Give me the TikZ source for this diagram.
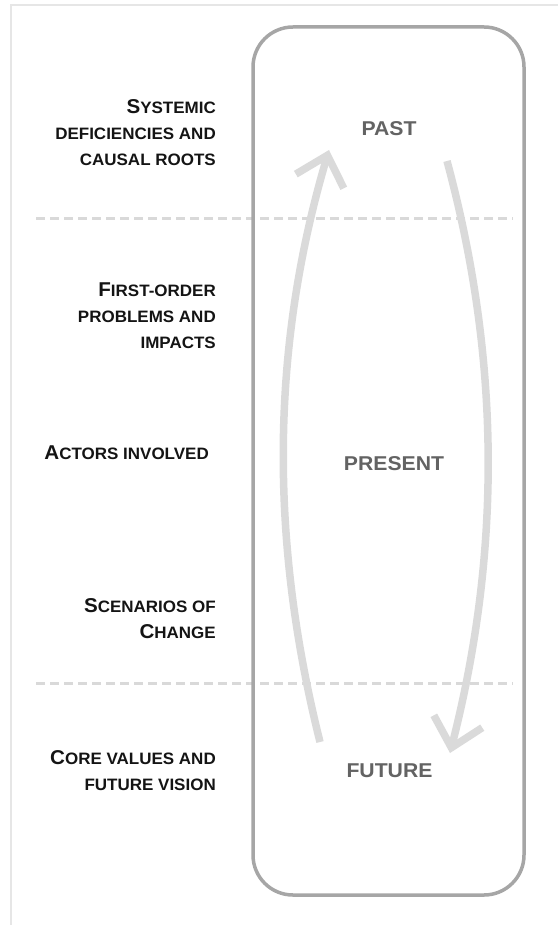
\documentclass[tikz,border=0pt]{standalone}
\usepackage{fontspec}
\setmainfont{Liberation Sans}
\newfontfamily\tagfont{Liberation Sans}[FakeStretch=1.03]
\newfontfamily\eraFont{Liberation Sans}[FakeStretch=1.06]
\usetikzlibrary{arrows.meta}
\definecolor{boxgray}{HTML}{A6A6A6}
\definecolor{flowgray}{HTML}{DADADA}
\definecolor{rulegray}{HTML}{D9D9D9}
\definecolor{framegray}{HTML}{E6E6E6}
\definecolor{eragray}{HTML}{636363}
\definecolor{tagink}{HTML}{141414}
% first letter of a small-caps label
\newcommand\Ini[1]{{\fontsize{20}{20}\selectfont #1}}
\tikzset{
  frameline/.style={draw=framegray, line width=2pt},
  timebox/.style={draw=boxgray, line width=3.5pt, rounded corners=40pt,
    inner sep=0pt, minimum width=271pt, minimum height=868pt},
  divider/.style={draw=rulegray, line width=3pt, dash pattern=on 9pt off 5pt},
  flow/.style={draw=flowgray, line width=7.5pt,
    -{Straight Barb[sharp, length=27pt, width=50pt]}},
  era/.style={font=\eraFont\bfseries\fontsize{20}{20}\selectfont, text=eragray,
    inner sep=0pt, anchor=base},
  tag/.style={font=\tagfont\bfseries\fontsize{16.5}{26}\selectfont, text=tagink,
    align=right, inner sep=0pt, anchor=base east},
}
\begin{document}
\begin{tikzpicture}[x=1pt, y=-1pt]
  \useasboundingbox (0,0) rectangle (558,925);
  % outer frame (top and left edges)
  \coordinate (frTL) at (11,5);
  \coordinate (frTR) at (558,5);
  \coordinate (frBL) at (11,925);
  \draw[frameline] (frTR) -- (frTL) -- (frBL);

  % dividers between the three time zones
  \coordinate (d1a) at (36,219);  \coordinate (d1b) at (513,219);
  \coordinate (d2a) at (36,683);  \coordinate (d2b) at (513,683);
  \draw[divider] (d1a) -- (d1b);
  \draw[divider] (d2a) -- (d2b);

  % timeline box
  \node[timebox] (tbox) at (388.5,461) {};

  % looping arrows: future back to past, past forward to future
  \coordinate (upS) at (320,742);
  \coordinate (upE) at (329,150);
  \coordinate (dnS) at (447,161);
  \coordinate (dnE) at (450,753);
  \draw[flow] (upS) .. controls (270,542) and (270,350) .. (upE);
  \draw[flow] (dnS) .. controls (501,361) and (501,553) .. (dnE);

  % time zones
  \node[era] (past)    at (389,136) {PAST};
  \node[era] (present) at (394,470) {PRESENT};
  \node[era] (future)  at (389.5,777) {FUTURE};

  % analysis levels (anchored on the baseline of the last line)
  \node[tag] (roots) at (216,166)
    {\Ini{S}YSTEMIC\\DEFICIENCIES AND\\CAUSAL ROOTS};
  \node[tag] (impacts) at (216,348)
    {\Ini{F}IRST-ORDER\\PROBLEMS AND\\IMPACTS};
  \node[tag] (actors) at (209,459) {\Ini{A}CTORS INVOLVED};
  \node[tag] (change) at (216,638) {\Ini{S}CENARIOS OF\\\Ini{C}HANGE};
  \node[tag] (vision) at (216,790) {\Ini{C}ORE VALUES AND\\FUTURE VISION};
\end{tikzpicture}
\end{document}
